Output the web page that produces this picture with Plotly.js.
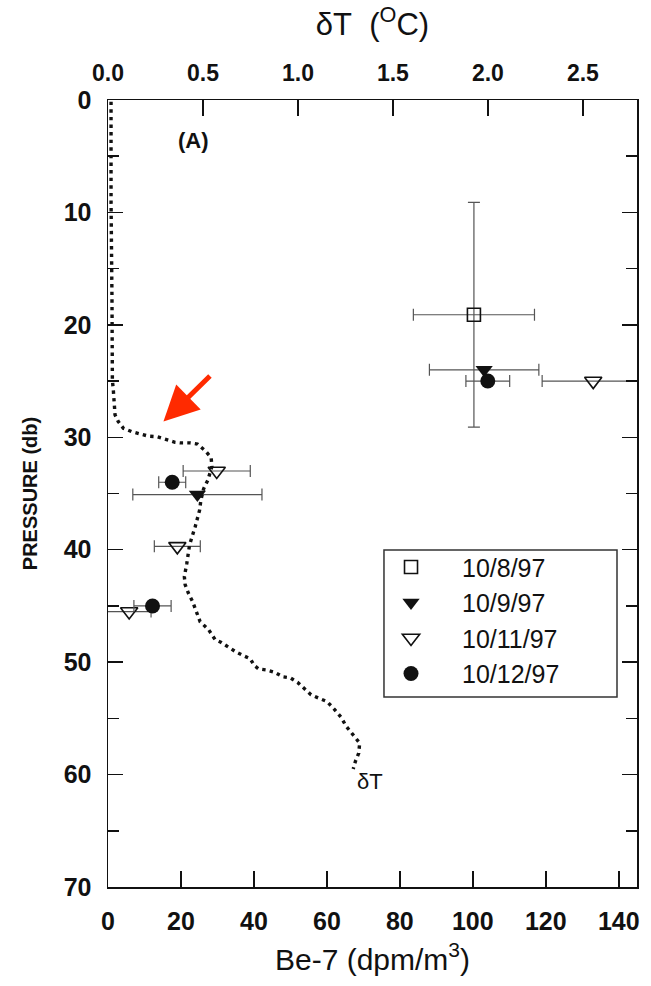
<!DOCTYPE html>
<html>
<head>
<meta charset="utf-8">
<script src="https://cdn.plot.ly/plotly-3.0.1.min.js"></script>
<style>
  html, body { margin: 0; padding: 0; background: #ffffff; }
  #chart { width: 651px; height: 986px; }
</style>
</head>
<body>
<div id="chart"></div>
<script>
// Temperature anomaly profile (dotted curve), top axis in deg C
const dtPressure = [0.15, 8.9, 17.8, 24.9, 25.8, 27.1, 28.0, 28.6, 29.2, 29.5, 29.7, 29.9, 29.95, 30.15,
  30.45, 30.5, 30.5, 30.6, 31.2, 31.8, 32.6, 33.8, 34.6, 35.6, 36.5, 37.95, 38.8, 39.6, 41.2, 42.4,
  43.1, 43.9, 44.6, 45.5, 46.4, 47.1, 48.0, 48.2, 48.7, 49.1, 49.4, 49.7, 50.3, 50.6, 50.7, 50.9,
  51.3, 51.4, 51.8, 52.4, 52.9, 53.2, 53.5, 54.2, 54.9, 55.7, 56.5, 57.2, 58.1, 58.8, 59.5];
const dtValues = [0.016, 0.016, 0.021, 0.023, 0.028, 0.032, 0.037, 0.054, 0.081, 0.125, 0.169, 0.213,
  0.257, 0.292, 0.353, 0.380, 0.432, 0.471, 0.512, 0.543, 0.547, 0.526, 0.503, 0.489, 0.482, 0.459,
  0.445, 0.429, 0.415, 0.402, 0.406, 0.424, 0.445, 0.464, 0.485, 0.529, 0.564, 0.591, 0.634, 0.675,
  0.710, 0.749, 0.770, 0.793, 0.837, 0.877, 0.921, 0.960, 0.998, 1.039, 1.069, 1.109, 1.153, 1.192,
  1.227, 1.254, 1.291, 1.325, 1.320, 1.303, 1.291];

// Be-7 activity by sampling date (bottom axis, dpm/m3)
const dates = ["10/8/97", "10/9/97", "10/11/97", "10/12/97"];

const be7_1008 = [100.3];
const p_1008 = [19.1];
const be7Err_1008 = [16.6];
const pErr_1008 = [10];

const be7_1009 = [103.1, 24.5];
const p_1009 = [24.0, 35.1];
const be7Err_1009 = [15, 17.7];

const be7_1011 = [133.0, 29.8, 19.0, 5.8];
const p_1011 = [25.0, 33.0, 39.7, 45.5];
const be7Err_1011 = [14, 9.2, 6.3, 6];

const be7_1012 = [104.1, 17.6, 12.2];
const p_1012 = [25.0, 34.0, 45.0];
const be7Err_1012 = [6, 3.7, 5.1];

// Axis ticks
const be7Ticks = [0, 20, 40, 60, 80, 100, 120, 140];
const dtTicks = [0.0, 0.5, 1.0, 1.5, 2.0, 2.5];
const pTicks = [0, 10, 20, 30, 40, 50, 60, 70];

const FONT = "Liberation Sans, Arial, Helvetica, sans-serif";
const INK = "#111111";
const ERR = "#555555";

function errX(arr) {
  return { type: "data", array: arr, visible: true, color: ERR, thickness: 1.2, width: 6 };
}

const traces = [
  {
    x: dtValues, y: dtPressure, xaxis: "x2", yaxis: "y",
    mode: "lines", name: "δT", showlegend: false,
    line: { color: INK, width: 3.4, dash: "3.4px,4.2px" },
    hoverinfo: "skip"
  },
  {
    x: be7_1008, y: p_1008, name: dates[0], mode: "markers",
    marker: { symbol: "square-open", size: 13, color: INK, line: { width: 1.6, color: INK } },
    error_x: errX(be7Err_1008),
    error_y: { type: "data", array: pErr_1008, visible: true, color: ERR, thickness: 1.2, width: 6 }
  },
  {
    x: be7_1009, y: p_1009, name: dates[1], mode: "markers",
    marker: { symbol: "triangle-down", size: 15, color: INK },
    error_x: errX(be7Err_1009)
  },
  {
    x: be7_1011, y: p_1011, name: dates[2], mode: "markers",
    marker: { symbol: "triangle-down-open", size: 15, color: INK, line: { width: 1.6, color: INK } },
    error_x: errX(be7Err_1011)
  },
  {
    x: be7_1012, y: p_1012, name: dates[3], mode: "markers",
    marker: { symbol: "circle", size: 15, color: INK },
    error_x: errX(be7Err_1012)
  }
];

const axisCommon = {
  showline: true, linecolor: INK, linewidth: 1.5,
  ticks: "inside", tickcolor: INK, tickwidth: 1.5,
  showgrid: false, zeroline: false, fixedrange: true
};

const layout = {
  width: 651, height: 986,
  margin: { l: 108, r: 14, t: 100, b: 99 },
  paper_bgcolor: "#ffffff",
  plot_bgcolor: "#ffffff",
  font: { family: FONT, color: INK },
  showlegend: true,
  legend: {
    x: 0.4764, y: 0.4355, xanchor: "left", yanchor: "top",
    bgcolor: "rgba(0,0,0,0)", borderwidth: 0,
    font: { family: FONT, size: 25, color: INK },
    itemwidth: 92, traceorder: "normal"
  },
  // frame around the legend entries
  shapes: [
    {
      type: "rect", xref: "paper", yref: "paper",
      x0: 0.5217, x1: 0.9622, y0: 0.2414, y1: 0.4282,
      line: { color: "#333333", width: 1.5 }, fillcolor: "#ffffff", layer: "below"
    }
  ],
  xaxis: Object.assign({}, axisCommon, {
    range: [0, 145], tickvals: be7Ticks, ticklen: 16,
    tickfont: { family: FONT, size: 25, weight: "bold", color: INK },
    ticklabelstandoff: 11,
    title: { text: "Be-7 (dpm/m<sup>3</sup>)", font: { family: FONT, size: 30, color: INK }, standoff: 15 }
  }),
  xaxis2: Object.assign({}, axisCommon, {
    overlaying: "x", side: "top", anchor: "y",
    range: [0, 2.785], tickvals: dtTicks, tickformat: ".1f", ticklen: 16,
    tickfont: { family: FONT, size: 23, weight: "bold", color: INK },
    ticklabelstandoff: 8,
    title: { text: "δT&nbsp;&nbsp;(<sup>O</sup>C)", font: { family: FONT, size: 31, color: INK }, standoff: 15 }
  }),
  yaxis: Object.assign({}, axisCommon, {
    range: [70, 0], tickvals: pTicks, ticklen: 15, mirror: "ticks",
    minor: { dtick: 5, tick0: 0, ticks: "inside", ticklen: 11, tickcolor: INK, tickwidth: 1.5 },
    tickfont: { family: FONT, size: 25, weight: "bold", color: INK },
    ticklabelstandoff: 10,
    title: { text: "PRESSURE (db)", font: { family: FONT, size: 20, weight: "bold", color: INK }, standoff: 20 }
  }),
  annotations: [
    {
      xref: "x", yref: "y", x: 23.5, y: 3.6, text: "(A)", showarrow: false,
      font: { family: FONT, size: 22, weight: "bold", color: INK }
    },
    {
      xref: "x2", yref: "y", x: 1.377, y: 60.6, text: "δT", showarrow: false,
      font: { family: FONT, size: 22, color: INK }
    },
    {
      xref: "x", yref: "y", x: 15.2, y: 28.6, text: "", showarrow: true,
      ax: 48, ay: -47, arrowhead: 2, arrowsize: 1.4, arrowwidth: 5,
      arrowcolor: "#ff2a00", standoff: 0
    }
  ]
};

Plotly.newPlot("chart", traces, layout, { displayModeBar: false, staticPlot: true });
</script>
</body>
</html>
